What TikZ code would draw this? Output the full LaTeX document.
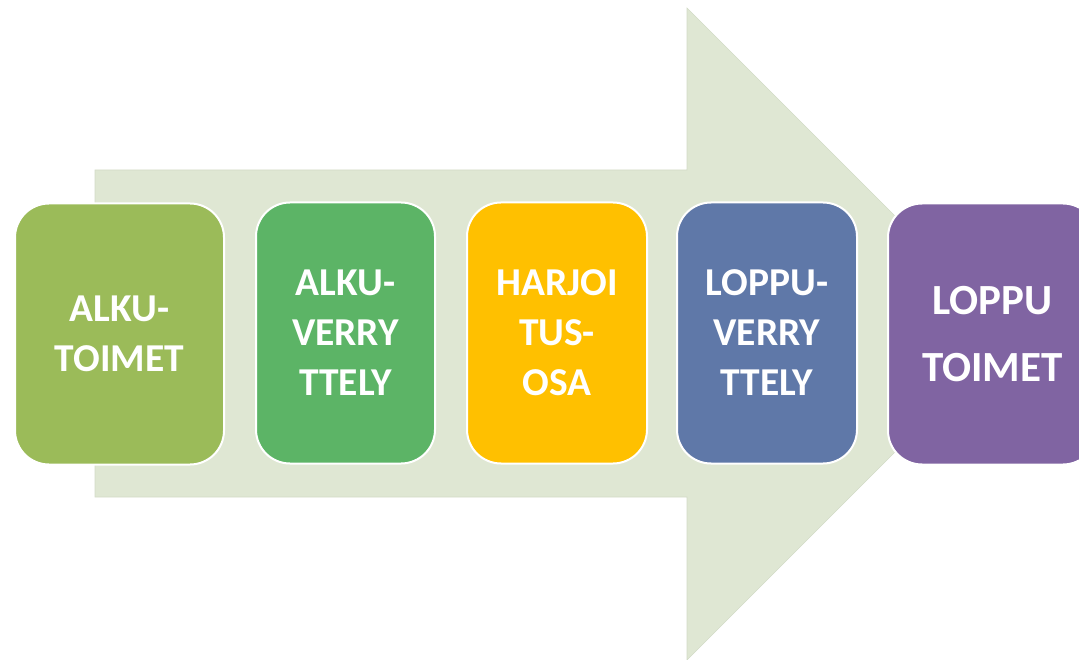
\documentclass[tikz,border=0pt]{standalone}
\usepackage{fontspec}
\setmainfont{Carlito}
\definecolor{arrowfill}{HTML}{DFE7D3}
\definecolor{arrowedge}{HTML}{D3DBC7}
\definecolor{cA}{HTML}{9BBB59}
\definecolor{cB}{HTML}{5CB466}
\definecolor{cC}{HTML}{FFC000}
\definecolor{cD}{HTML}{5F78A8}
\definecolor{cE}{HTML}{8064A2}
\begin{document}
\begin{tikzpicture}[x=1pt,y=-1pt,
  stage/.style={draw=white,line width=2pt,rounded corners=34pt,text=white,
    font=\bfseries\fontsize{39.5}{50}\selectfont,align=center,
    minimum height=261pt,inner sep=0pt},
  bigstage/.style={stage,font=\bfseries\fontsize{43}{67}\selectfont}]
\useasboundingbox (0,0) rectangle (1079,660);
\clip (0,0) rectangle (1079,660);
\path[fill=arrowfill,draw=arrowedge,line width=0.6pt]
  (95,170) -- (687,170) -- (687,8) -- (1013,334) -- (687,660) -- (687,497) -- (95,497) -- cycle;
\node[stage,fill=cA,minimum width=209pt] (s1) at (119.5,334) {ALKU-\\TOIMET};
\node[stage,fill=cB,minimum width=179pt] (s2) at (345.5,333) {ALKU-\\VERRY\\TTELY};
\node[stage,fill=cC,minimum width=180pt] (s3) at (557,333) {HARJOI\\TUS-\\OSA};
\node[stage,fill=cD,minimum width=180pt] (s4) at (767,333) {LOPPU-\\VERRY\\TTELY};
\node[bigstage,fill=cE,minimum width=209pt] (s5) at (992.5,334) {LOPPU\\TOIMET};
\end{tikzpicture}
\end{document}
